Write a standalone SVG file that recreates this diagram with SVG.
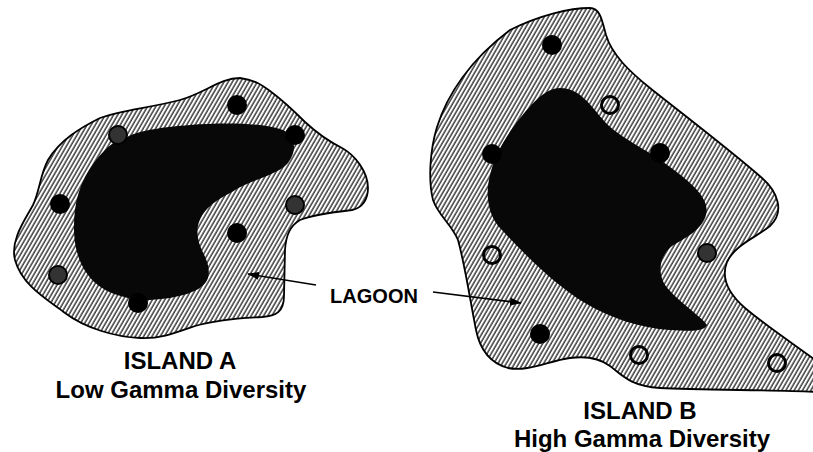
<svg xmlns="http://www.w3.org/2000/svg" width="813" height="452" viewBox="0 0 813 452">
<defs>
<pattern id="hatch" patternUnits="userSpaceOnUse" width="3.6" height="10" patternTransform="rotate(30)">
<rect width="3.6" height="10" fill="#fff"/>
<line x1="1" y1="0" x2="1" y2="10" stroke="#000" stroke-width="1.15"/>
</pattern>
<marker id="arr" viewBox="0 0 12 8" refX="11" refY="4" markerWidth="12" markerHeight="8" markerUnits="userSpaceOnUse" orient="auto">
<path d="M0,0 L12,4 L0,8 Z" fill="#000"/>
</marker>
</defs>
<style>
.island{fill:url(#hatch);stroke:#000;stroke-width:1.8}
.lagoon{fill:#080808}
.blk{fill:#000}
.gry{fill:#333;stroke:#000;stroke-width:2}
.ring{fill:none;stroke:#000;stroke-width:3}
.lbl{font-family:"Liberation Sans",Arial,Helvetica,sans-serif;font-weight:bold;fill:#000}
.conn{stroke:#000;stroke-width:1.6;fill:none}
</style>
<rect width="813" height="452" fill="#fff"/>

<g id="islandA">
<path class="island" d="M 240,78 C 255,80 262,85 270,91 C 285,102 295,112 305,122 C 318,134 330,142 342,148 C 355,155 368,172 368,188 C 368,200 362,208 352,210 C 335,212 312,215 300,220 C 290,226 286,235 285,250 L 284,296 C 284,312 276,316 262,317 C 240,318 215,320 195,326 C 175,333 160,339 140,338 C 115,337 85,328 65,313 C 45,298 22,285 15,260 C 10,240 25,220 33,205 C 40,190 40,175 48,160 C 60,140 80,128 100,118 C 120,110 150,108 180,100 C 205,93 220,78 240,78 Z"/>
<path class="lagoon" d="M 127,137 C 140,130 165,127 190,125 C 220,123 260,122 283,130 C 295,136 298,150 288,163 C 278,175 250,180 232,192 C 205,205 195,220 198,238 C 200,252 212,262 208,278 C 203,292 180,298 150,300 C 125,300 100,292 88,275 C 75,258 72,235 75,210 C 78,185 90,165 105,150 C 112,143 118,140 127,137 Z"/>
<circle class="blk" cx="237" cy="105" r="10"/>
<circle class="gry" cx="118" cy="135" r="9"/>
<circle class="blk" cx="295" cy="135" r="10"/>
<circle class="blk" cx="60" cy="204" r="10"/>
<circle class="gry" cx="295" cy="205" r="9"/>
<circle class="blk" cx="237" cy="233" r="10"/>
<circle class="gry" cx="58" cy="275" r="9"/>
<circle class="blk" cx="138" cy="303" r="10"/>
<text class="lbl" x="180" y="369" font-size="24" text-anchor="middle">ISLAND A</text>
<text class="lbl" x="181" y="398" font-size="24" text-anchor="middle">Low Gamma Diversity</text>
</g>

<g id="islandB">
<path class="island" d="M 590,8 C 600,8 602,20 606,35 C 612,55 630,72 650,88 C 680,112 730,150 762,178 C 778,192 785,212 770,226 C 755,238 735,245 727,262 C 720,280 730,295 745,308 C 765,325 795,345 818,362 L 818,392 C 780,390 700,390 660,388 C 630,386 622,375 610,366 C 598,357 585,356 570,358 C 548,361 528,372 508,368 C 490,363 480,350 476,330 C 470,300 465,265 458,240 C 452,225 438,215 433,200 C 428,180 430,150 437,127 C 447,95 470,60 510,30 C 540,15 570,8 590,8 Z"/>
<path class="lagoon" d="M 560,88 C 580,88 590,105 605,122 C 620,138 645,148 670,167 C 695,185 710,200 706,215 C 702,230 685,238 672,246 C 660,255 657,272 665,285 C 678,302 700,315 707,325 C 704,332 690,331 670,330 C 640,328 610,318 585,303 C 555,285 525,255 500,228 C 488,215 485,195 490,175 C 496,150 510,130 525,112 C 538,97 548,88 560,88 Z"/>
<circle class="blk" cx="552" cy="45" r="10"/>
<circle class="ring" cx="610" cy="105" r="8.5"/>
<circle class="blk" cx="492" cy="154" r="10"/>
<circle class="blk" cx="660" cy="153" r="10"/>
<circle class="ring" cx="492" cy="255" r="8.5"/>
<circle class="gry" cx="707" cy="253" r="9"/>
<circle class="blk" cx="540" cy="334" r="10"/>
<circle class="ring" cx="639" cy="355" r="8.5"/>
<circle class="ring" cx="777" cy="363" r="8.5"/>
<text class="lbl" x="640" y="419" font-size="24" text-anchor="middle">ISLAND B</text>
<text class="lbl" x="642" y="447" font-size="24" text-anchor="middle">High Gamma Diversity</text>
</g>

<g id="connectors">
<line class="conn" x1="316" y1="285" x2="248" y2="274" marker-end="url(#arr)"/>
<line class="conn" x1="433" y1="292" x2="521" y2="303" marker-end="url(#arr)"/>
</g>

<g id="lagoonLabel">
<text class="lbl" x="374" y="303" font-size="20" text-anchor="middle">LAGOON</text>
</g>
</svg>
